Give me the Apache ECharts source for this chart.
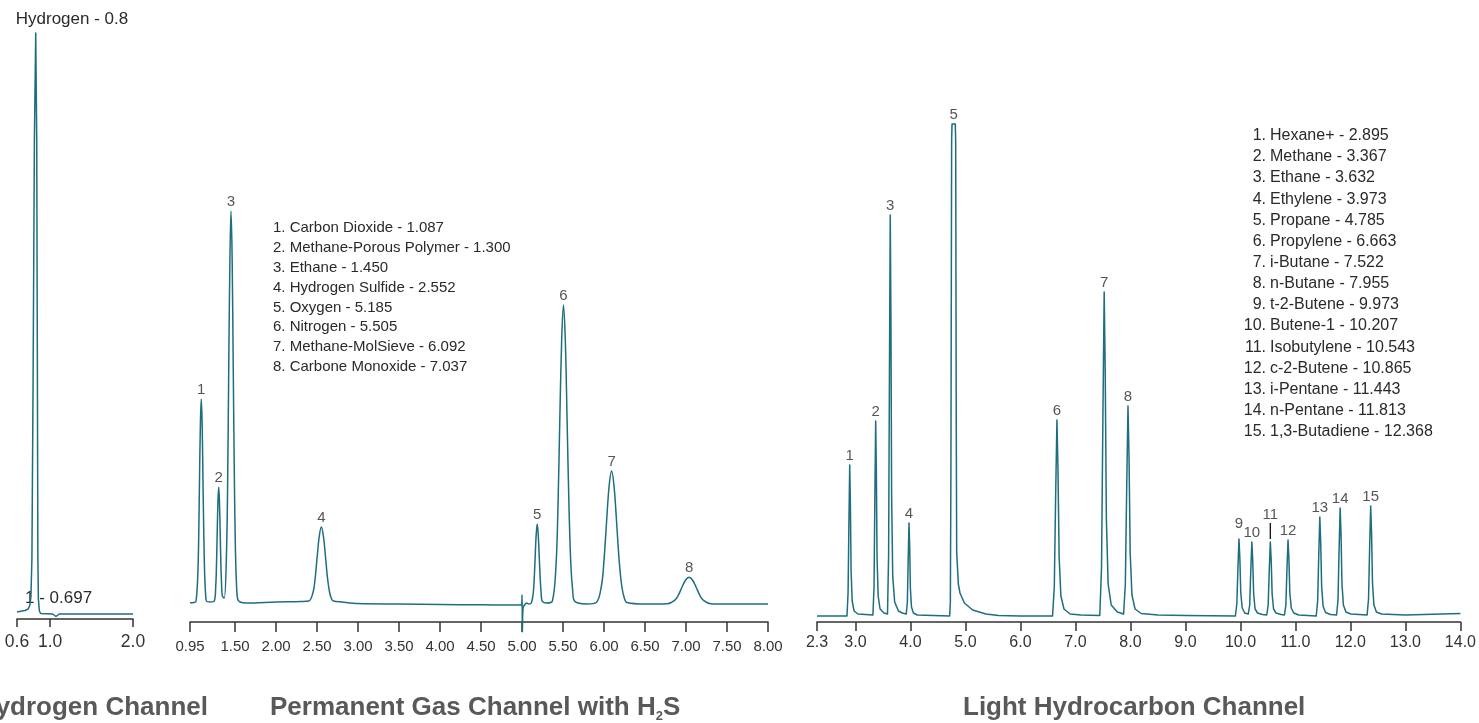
<!DOCTYPE html>
<html><head><meta charset="utf-8">
<script src="https://cdn.jsdelivr.net/npm/echarts@6/dist/echarts.min.js"></script>
<style>html,body{margin:0;padding:0;background:#fff;}#c{width:1479px;height:723px;}</style>
</head><body><div id="c"></div>
<script>
// ---------------- DATA ----------------
// Hydrogen channel: [retention time (min), signal]
const h2Trace = [[0.600,7],[0.660,8],[0.697,8.5],[0.735,10],[0.755,14],[0.768,22],[0.780,60],[0.795,250],[0.810,480],[0.826,586],[0.838,480],[0.846,250],[0.852,60],[0.858,20],[0.870,8],[0.885,5.5],[1.03,5],[1.05,4],[1.07,2.5],[1.09,4.5],[1.11,5],[2.0,5]];
const h2Ticks = [0.6, 1.0, 2.0];

// Permanent gas channel
const pgTrace = [[0.95,19.3],[1.000,19.5],
[1.024,21],[1.045,47],[1.056,84],[1.066,143],[1.077,199],[1.087,223],[1.098,199],[1.108,143],[1.119,84],[1.129,47],[1.140,28],[1.150,21],
[1.194,20],
[1.246,21],[1.264,36],[1.273,57],[1.282,90],[1.291,121],[1.300,135],[1.309,121],[1.318,90],[1.327,57],[1.336,36],[1.345,26],
[1.368,24],
[1.396,72],[1.410,145],[1.423,258],[1.437,364],[1.450,411],[1.464,364],[1.477,258],[1.491,145],[1.504,72],[1.518,36],[1.531,23],[1.56,20],
[1.64,19],[2.0,20],[2.3,20.5],
[2.40,21],[2.452,30],[2.477,44],[2.502,66],[2.527,86],[2.552,95],[2.577,86],[2.602,66],[2.627,44],[2.652,30],[2.677,23],[2.70,21],
[2.8,20],[3.0,18.5],[3.5,18],[4.0,17.5],[4.5,17.2],[4.99,17],
[5.0,27],[5.004,-10],[5.012,14],[5.03,17],[5.06,19],[5.08,18],
[5.113,19],[5.137,29],[5.149,44],[5.161,67],[5.173,88],[5.185,98],[5.197,88],[5.209,67],[5.221,44],[5.233,29],[5.245,21],
[5.30,19],
[5.37,21],[5.415,58],[5.438,114],[5.46,200],[5.483,281],[5.505,317],[5.528,281],[5.55,200],[5.573,114],[5.595,58],[5.618,31],[5.64,21],
[5.788,18],
[5.906,19.5],[5.968,36],[5.999,61],[6.03,99],[6.061,135],[6.092,151],[6.123,135],[6.154,99],[6.185,61],[6.216,36],[6.247,24],[6.278,19.5],
[6.5,18],
[6.773,18.3],[6.861,21.6],[6.905,26.6],[6.949,34.5],[6.993,41.8],[7.037,44.7],[7.081,41.8],[7.125,34.5],[7.169,26.6],[7.213,21.6],[7.301,18.3],
[7.5,18],[8.0,18]];
const pgTicks = [0.95,1.5,2.0,2.5,3.0,3.5,4.0,4.5,5.0,5.5,6.0,6.5,7.0,7.5,8.0];
const pgNames = ['Carbon Dioxide','Methane-Porous Polymer','Ethane','Hydrogen Sulfide','Oxygen','Nitrogen','Methane-MolSieve','Carbone Monoxide'];
const pgTimes = [1.087,1.300,1.450,2.552,5.185,5.505,6.092,7.037];
const pgTimeText = ['1.087','1.300','1.450','2.552','5.185','5.505','6.092','7.037'];
const pgApex = [223,135,411,95,98,317,151,44.7];

// Light hydrocarbon channel
const lhTrace = [[2.3,6],[2.6,6],
[2.845,6],[2.865,29],[2.880,97],[2.895,157],[2.907,119],[2.920,51],[2.940,21],[2.975,11],[3.045,8],
[3.317,7],[3.337,35],[3.352,123],[3.367,201],[3.379,152],[3.392,65],[3.412,26],[3.447,13],[3.517,9],
[3.582,8],[3.602,66],[3.617,247],[3.632,407],[3.644,307],[3.657,126],[3.677,46],[3.712,20],[3.782,11],[3.85,9],
[3.923,8],[3.943,20],[3.958,62],[3.973,99],[3.985,76],[3.998,34],[4.018,15],[4.053,9],[4.123,7],
[4.712,6],[4.725,20],[4.735,150],[4.748,480],[4.755,498],[4.815,498],[4.822,480],[4.832,200],[4.84,70],[4.87,38],[4.9,29],[4.98,19],[5.13,12],[5.37,8],[5.6,6.5],[6.0,6],
[6.583,6],[6.615,35],[6.639,124],[6.663,202],[6.682,153],[6.703,65],[6.735,26],[6.791,13],[6.903,8],[7.1,7],
[7.442,6.5],[7.474,55],[7.498,200],[7.522,330],[7.541,249],[7.562,103],[7.594,38],[7.65,17],[7.762,10],
[7.875,8],[7.907,38],[7.931,132],[7.955,216],[7.974,164],[7.995,69],[8.027,27],[8.083,13],[8.195,8.5],[8.5,7],[9.0,6.5],
[9.908,6],[9.934,18],[9.953,52],[9.973,83],[9.989,64],[10.006,29],[10.032,14],[10.077,9],
[10.142,8],[10.168,17],[10.187,50],[10.207,80],[10.223,62],[10.240,28],[10.266,13],[10.311,9],[10.40,7.5],
[10.478,7],[10.504,17],[10.523,50],[10.543,80],[10.559,62],[10.576,28],[10.602,13],[10.647,9],[10.74,7.5],
[10.80,7],[10.826,17],[10.845,52],[10.865,82],[10.881,63],[10.898,29],[10.924,14],[10.969,9],[11.06,7],
[11.378,6],[11.404,21],[11.423,65],[11.443,105],[11.459,80],[11.476,36],[11.502,16],[11.547,9.5],[11.638,7.5],
[11.748,7],[11.774,22],[11.793,71],[11.813,114],[11.829,87],[11.846,38],[11.872,17],[11.917,10],[12.008,8],
[12.303,7],[12.329,23],[12.348,72],[12.368,116],[12.384,89],[12.401,39],[12.427,17],[12.472,10],[12.563,8],
[13.0,7],[14.0,8.5]];
const lhTicks = [2.3,3,4,5,6,7,8,9,10,11,12,13,14];
const lhNames = ['Hexane+','Methane','Ethane','Ethylene','Propane','Propylene','i-Butane','n-Butane','t-2-Butene','Butene-1','Isobutylene','c-2-Butene','i-Pentane','n-Pentane','1,3-Butadiene'];
const lhTimes = [2.895,3.367,3.632,3.973,4.785,6.663,7.522,7.955,9.973,10.207,10.543,10.865,11.443,11.813,12.368];
const lhTimeText = ['2.895','3.367','3.632','3.973','4.785','6.663','7.522','7.955','9.973','10.207','10.543','10.865','11.443','11.813','12.368'];
const lhApex = [157,201,407,99,498,202,330,216,83,80,80,82,105,114,116];
const lhLeader = [[10.543,83],[10.543,99]];

const titles = ['Hydrogen Channel','Permanent Gas Channel with H{sub|2}S','Light Hydrocarbon Channel'];
const h2Labels = ['Hydrogen - 0.8','1 - 0.697'];

// ---------------- CHART ----------------
const FONT = '"Liberation Sans", Arial, Helvetica, sans-serif';
const LINE = '#1d6e7f';
const TXT = '#2a2a2a';
const AX = '#333333';

function xAx(idx, min, max, ticks, dec, fs, margin, tickLen){
  return {
    type:'value', gridIndex: idx, min: min, max: max,
    axisLine:{show:true, onZero:false, lineStyle:{color:AX, width:1.5}},
    axisTick:{show:true, length:tickLen, customValues: ticks, lineStyle:{color:AX, width:1.5}},
    axisLabel:{show:true, customValues: ticks, formatter: v => Number(v).toFixed(dec), fontSize: fs, fontFamily: FONT, color: '#333', margin: margin},
    splitLine:{show:false}
  };
}
function yAx(idx, max){
  return {type:'value', gridIndex: idx, min: 0, max: max, show:false};
}
function trace(idx, data, smooth){
  return {type:'line', xAxisIndex: idx, yAxisIndex: idx, data: data, showSymbol:false, symbol:'none',
    smooth: smooth,
    lineStyle:{color:LINE, width:1.5, join:'round'}, clip:false, silent:true, z:2};
}
const labelDist = {9: 8, 11: 20};
function peakLabels(idx, times, apex){
  return {type:'scatter', xAxisIndex: idx, yAxisIndex: idx, symbolSize: 0, silent:true, z:3,
    data: times.map((t,i)=>({value:[t, apex[i]], label:{distance: labelDist[i+1] !== undefined && idx===2 ? labelDist[i+1] : 2}})),
    label:{show:true, position:'top', formatter: p => String(p.dataIndex+1), fontSize:15, fontFamily:FONT, color:TXT}};
}

const graphics = [];
// hydrogen labels
graphics.push({type:'text', x:72, y:19, style:{text:h2Labels[0], fontSize:17, fontFamily:FONT, fill:TXT, align:'center', verticalAlign:'middle'}});
graphics.push({type:'text', x:25, y:598, style:{text:h2Labels[1], fontSize:17, fontFamily:FONT, fill:TXT, align:'left', verticalAlign:'middle'}});
// permanent gas legend
pgNames.forEach((n,i)=>{
  graphics.push({type:'text', x:273, y:228.3 + i*19.77, style:{text:(i+1)+'. '+n+' - '+pgTimeText[i], fontSize:15, fontFamily:FONT, fill:TXT, align:'left', verticalAlign:'middle'}});
});
// light hydrocarbon legend
lhNames.forEach((n,i)=>{
  const y = 135.7 + i*21.14;
  graphics.push({type:'text', x:1266, y:y, style:{text:(i+1)+'.', fontSize:16, fontFamily:FONT, fill:TXT, align:'right', verticalAlign:'middle'}});
  graphics.push({type:'text', x:1270, y:y, style:{text:n+' - '+lhTimeText[i], fontSize:16, fontFamily:FONT, fill:TXT, align:'left', verticalAlign:'middle'}});
});
// titles
const TSTY = {fontSize:26, fontWeight:'bold', fontFamily:FONT, fill:'#58595b', verticalAlign:'middle', lineHeight:30,
  rich:{sub:{fontSize:13, fontWeight:'bold', fontFamily:FONT, fill:'#58595b', lineHeight:30, verticalAlign:'bottom'}}};
graphics.push({type:'text', x:208, y:708, style:Object.assign({}, TSTY, {text:titles[0], align:'right'})});
graphics.push({type:'text', x:270, y:708, style:Object.assign({}, TSTY, {text:titles[1], align:'left'})});
graphics.push({type:'text', x:963, y:708, style:Object.assign({}, TSTY, {text:titles[2], align:'left'})});

const option = {
  animation:false,
  backgroundColor:'#ffffff',
  grid:[
    {left:17, top:0, width:116, height:619},
    {left:190, top:0, width:578, height:622},
    {left:817, top:0, width:645, height:622}
  ],
  xAxis:[
    xAx(0, 0.6, 2.0, h2Ticks, 1, 17.5, 14, 8),
    xAx(1, 0.95, 8.0, pgTicks, 2, 15, 17, 10),
    xAx(2, 2.3, 14.0, lhTicks, 1, 16, 13, 9)
  ],
  yAxis:[yAx(0,619), yAx(1,622), yAx(2,622)],
  series:[
    trace(0, h2Trace, false),
    trace(1, pgTrace, 0.35),
    trace(2, lhTrace, false),
    peakLabels(1, pgTimes, pgApex),
    peakLabels(2, lhTimes, lhApex),
    {type:'line', xAxisIndex:2, yAxisIndex:2, data:lhLeader, showSymbol:false, symbol:'none', lineStyle:{color:'#111', width:1.3}, silent:true}
  ],
  graphic: graphics
};
const chart = echarts.init(document.getElementById('c'));
chart.setOption(option);
</script>
</body></html>
